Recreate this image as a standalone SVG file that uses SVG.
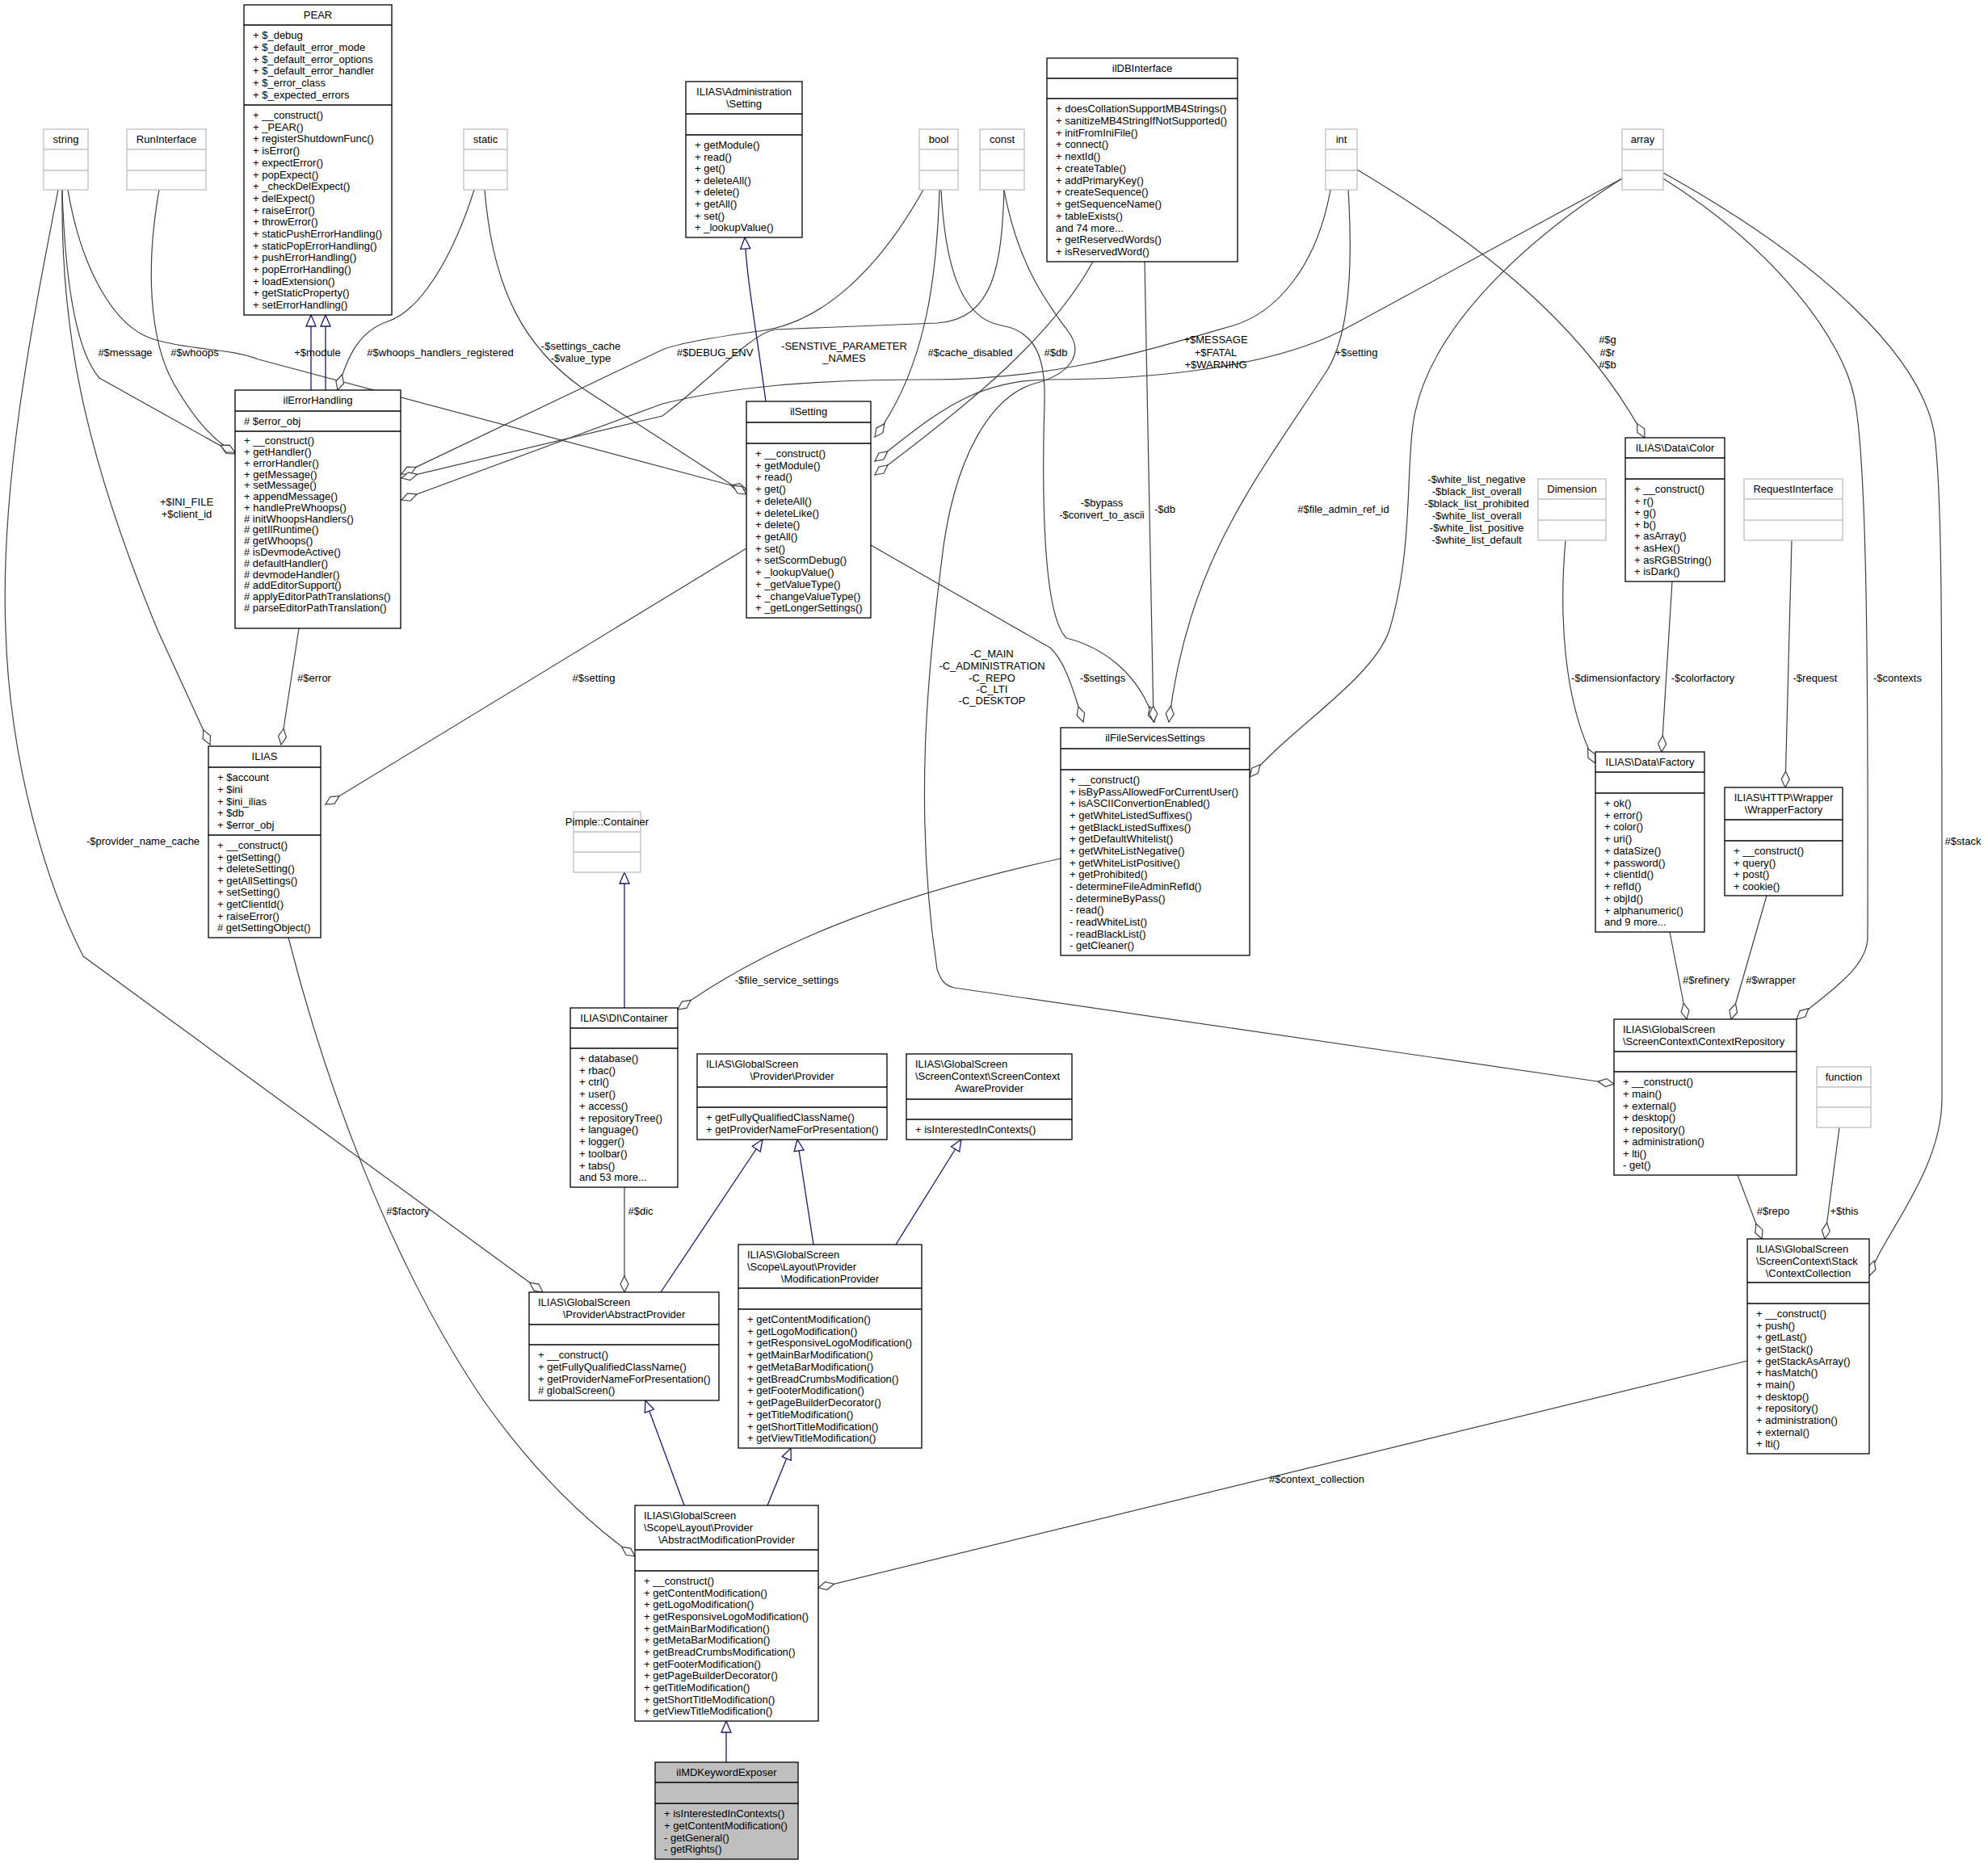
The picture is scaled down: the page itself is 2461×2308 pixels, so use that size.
<svg xmlns="http://www.w3.org/2000/svg" width="2461" height="2308" viewBox="0 0 2461 2308">
<style>
text{font-family:"Liberation Sans",Arial,Helvetica,sans-serif;font-size:13px;fill:#000}
.c{text-anchor:middle}
.n{fill:#fff;stroke:#000;stroke-width:1.3}
.g{fill:#fff;stroke:#bfbfbf;stroke-width:1.3}
.h{fill:#bfbfbf;stroke:#000;stroke-width:1.3}
.sn{stroke:#000;stroke-width:1.3}
.sg{stroke:#bfbfbf;stroke-width:1.3}
.e{fill:none;stroke:#404040;stroke-width:1.2;marker-end:url(#d)}
.i{fill:none;stroke:#191970;stroke-width:1.3;marker-end:url(#a)}
</style>
<defs>
<marker id="d" markerUnits="userSpaceOnUse" viewBox="0 0 22 12" refX="21" refY="6" markerWidth="22" markerHeight="12" orient="auto"><path d="M1,6 L11,1 L21,6 L11,11 Z" fill="#fff" stroke="#404040" stroke-width="1.2"/></marker>
<marker id="a" markerUnits="userSpaceOnUse" viewBox="0 0 16 14" refX="15" refY="7" markerWidth="16" markerHeight="14" orient="auto"><path d="M1,1 L15,7 L1,13 Z" fill="#fff" stroke="#191970" stroke-width="1.3"/></marker>
</defs>
<rect width="2461" height="2308" fill="#fff"/>
<g id="edges">
<path class="e" d="M77,235 C80,330 90,430 123,468 L291,562"/>
<path class="e" d="M197,235 C180,330 185,420 214,473 C235,510 260,545 291,560"/>
<path class="e" d="M84,235 C100,330 140,405 190,420 C240,435 280,430 320,445 L924,606"/>
<path class="e" d="M587,235 C560,320 520,385 480,398 C445,410 430,440 418,483"/>
<path class="e" d="M600,235 C610,360 650,430 720,480 L924,612"/>
<path class="e" d="M1143,235 C1090,330 1020,400 940,410 C880,418 840,425 820,433 L497,587"/>
<path class="e" d="M1243,235 C1240,330 1230,395 1160,400 L960,408 C930,412 880,470 820,515 L497,592"/>
<path class="e" d="M1647,235 C1630,330 1580,390 1520,405 C1400,440 1300,470 1150,470 C1000,470 900,480 820,500 L497,619"/>
<path class="e" d="M1163,235 C1160,330 1150,450 1083,541"/>
<path class="e" d="M2008,221 L1660,410 C1560,460 1400,470 1300,470 C1200,470 1150,520 1083,571"/>
<path class="e" d="M1353,324 C1300,420 1200,500 1083,588"/>
<path class="e" d="M1165,235 C1170,330 1190,395 1240,403 C1280,410 1295,440 1293,500 C1290,600 1290,760 1320,790 C1360,800 1410,830 1429,894"/>
<path class="e" d="M1243,235 C1260,330 1300,380 1322,410 C1345,440 1320,465 1280,475 C1230,490 1180,560 1165,700 C1150,820 1130,1000 1160,1200 C1165,1215 1170,1220 1181,1223 L1998,1342"/>
<path class="e" d="M1417,324 L1428,894"/>
<path class="e" d="M1078,675 L1300,802 C1320,820 1330,860 1341,894"/>
<path class="e" d="M1669,235 C1675,330 1670,420 1640,463 C1550,600 1470,700 1447,894"/>
<path class="e" d="M2008,221 C1900,290 1770,400 1750,520 C1740,580 1750,680 1720,780 C1700,840 1600,900 1547,962"/>
<path class="e" d="M2059,221 C2200,310 2280,420 2295,490 C2310,560 2313,780 2312,1160 C2312,1200 2260,1230 2224,1262"/>
<path class="e" d="M2059,214 C2250,320 2380,440 2395,540 C2405,620 2404,780 2404,1360 C2404,1450 2330,1530 2314,1580"/>
<path class="e" d="M1680,210 C1830,300 1960,400 2036,542"/>
<path class="e" d="M1938,669 C1930,760 1935,870 1975,945"/>
<path class="e" d="M2070,720 L2057,931"/>
<path class="e" d="M2218,669 L2210,975"/>
<path class="e" d="M2067,1154 L2088,1262"/>
<path class="e" d="M2187,1109 L2143,1262"/>
<path class="e" d="M2151,1455 L2181,1534"/>
<path class="e" d="M2277,1396 L2259,1534"/>
<path class="e" d="M2163,1685 L1013,1966"/>
<path class="e" d="M1313,1063 C1100,1110 950,1170 839,1250"/>
<path class="e" d="M773,1470 L773,1600"/>
<path class="e" d="M357,1161 C400,1330 480,1560 600,1736 C660,1820 720,1880 786,1927"/>
<path class="e" d="M72,235 C40,400 0,600 7,780 C12,950 60,1100 103,1184 L672,1600"/>
<path class="e" d="M77,235 C75,400 100,550 195,780 L260,922"/>
<path class="e" d="M370,778 L348,922"/>
<path class="e" d="M924,679 L403,996"/>
<path class="i" d="M385,483 L385,390"/>
<path class="i" d="M403,483 L403,390"/>
<path class="i" d="M948,497 C935,400 925,350 922,294"/>
<path class="i" d="M773,1248 L773,1080"/>
<path class="i" d="M818,1600 L944,1411"/>
<path class="i" d="M1007,1541 L987,1411"/>
<path class="i" d="M1109,1541 L1190,1411"/>
<path class="i" d="M847,1864 L799,1734"/>
<path class="i" d="M950,1864 L979,1793"/>
<path class="i" d="M899,2182 L899,2131"/>
<text class="c" x="155" y="441">#$message</text>
<text class="c" x="241" y="441">#$whoops</text>
<text class="c" x="393" y="441">+$module</text>
<text class="c" x="545" y="441">#$whoops_handlers_registered</text>
<text class="c" x="719" y="433">-$settings_cache</text>
<text class="c" x="719" y="448">-$value_type</text>
<text class="c" x="885" y="441">#$DEBUG_ENV</text>
<text class="c" x="1045" y="433">-SENSTIVE_PARAMETER</text>
<text class="c" x="1045" y="448">_NAMES</text>
<text class="c" x="1201" y="441">#$cache_disabled</text>
<text class="c" x="1307" y="441">#$db</text>
<text class="c" x="1505" y="425">+$MESSAGE</text>
<text class="c" x="1505" y="441">+$FATAL</text>
<text class="c" x="1505" y="456">+$WARNING</text>
<text class="c" x="1679" y="441">+$setting</text>
<text class="c" x="1990" y="425">#$g</text>
<text class="c" x="1990" y="441">#$r</text>
<text class="c" x="1990" y="456">#$b</text>
<text class="c" x="231" y="626">+$INI_FILE</text>
<text class="c" x="231" y="641">+$client_id</text>
<text class="c" x="177" y="1046">-$provider_name_cache</text>
<text class="c" x="389" y="844">#$error</text>
<text class="c" x="735" y="844">#$setting</text>
<text class="c" x="1364" y="627">-$bypass</text>
<text class="c" x="1364" y="642">-$convert_to_ascii</text>
<text class="c" x="1442" y="635">-$db</text>
<text class="c" x="1663" y="635">#$file_admin_ref_id</text>
<text class="c" x="1828" y="598">-$white_list_negative</text>
<text class="c" x="1828" y="613">-$black_list_overall</text>
<text class="c" x="1828" y="628">-$black_list_prohibited</text>
<text class="c" x="1828" y="643">-$white_list_overall</text>
<text class="c" x="1828" y="658">-$white_list_positive</text>
<text class="c" x="1828" y="673">-$white_list_default</text>
<text class="c" x="1228" y="814">-C_MAIN</text>
<text class="c" x="1228" y="829">-C_ADMINISTRATION</text>
<text class="c" x="1228" y="844">-C_REPO</text>
<text class="c" x="1228" y="858">-C_LTI</text>
<text class="c" x="1228" y="872">-C_DESKTOP</text>
<text class="c" x="1365" y="844">-$settings</text>
<text class="c" x="2000" y="844">-$dimensionfactory</text>
<text class="c" x="2108" y="844">-$colorfactory</text>
<text class="c" x="2247" y="844">-$request</text>
<text class="c" x="2349" y="844">-$contexts</text>
<text class="c" x="2430" y="1046">#$stack</text>
<text class="c" x="2112" y="1218">#$refinery</text>
<text class="c" x="2192" y="1218">#$wrapper</text>
<text class="c" x="2195" y="1504">#$repo</text>
<text class="c" x="2283" y="1504">+$this</text>
<text class="c" x="1630" y="1836">#$context_collection</text>
<text class="c" x="974" y="1218">-$file_service_settings</text>
<text class="c" x="793" y="1504">#$dic</text>
<text class="c" x="505" y="1504">#$factory</text>
</g>
<g id="PEAR"><rect class="n" x="302" y="6" width="183" height="384"/><line class="sn" x1="302" y1="31" x2="485" y2="31"/><line class="sn" x1="302" y1="130" x2="485" y2="130"/><text class="c" x="393.5" y="23">PEAR</text>
<text x="313" y="48"><tspan x="313">+ $_debug</tspan><tspan x="313" dy="14.83">+ $_default_error_mode</tspan><tspan x="313" dy="14.83">+ $_default_error_options</tspan><tspan x="313" dy="14.83">+ $_default_error_handler</tspan><tspan x="313" dy="14.83">+ $_error_class</tspan><tspan x="313" dy="14.83">+ $_expected_errors</tspan></text>
<text x="313" y="147"><tspan x="313">+ __construct()</tspan><tspan x="313" dy="14.7">+ _PEAR()</tspan><tspan x="313" dy="14.7">+ registerShutdownFunc()</tspan><tspan x="313" dy="14.7">+ isError()</tspan><tspan x="313" dy="14.7">+ expectError()</tspan><tspan x="313" dy="14.7">+ popExpect()</tspan><tspan x="313" dy="14.7">+ _checkDelExpect()</tspan><tspan x="313" dy="14.7">+ delExpect()</tspan><tspan x="313" dy="14.7">+ raiseError()</tspan><tspan x="313" dy="14.7">+ throwError()</tspan><tspan x="313" dy="14.7">+ staticPushErrorHandling()</tspan><tspan x="313" dy="14.7">+ staticPopErrorHandling()</tspan><tspan x="313" dy="14.7">+ pushErrorHandling()</tspan><tspan x="313" dy="14.7">+ popErrorHandling()</tspan><tspan x="313" dy="14.7">+ loadExtension()</tspan><tspan x="313" dy="14.7">+ getStaticProperty()</tspan><tspan x="313" dy="14.7">+ setErrorHandling()</tspan></text></g>
<g id="string"><rect class="g" x="54" y="160" width="55" height="75"/><line class="sg" x1="54" y1="185" x2="109" y2="185"/><line class="sg" x1="54" y1="211" x2="109" y2="211"/><text class="c" x="81.5" y="177">string</text></g>
<g id="RunInterface"><rect class="g" x="157" y="160" width="98" height="75"/><line class="sg" x1="157" y1="185" x2="255" y2="185"/><line class="sg" x1="157" y1="211" x2="255" y2="211"/><text class="c" x="206" y="177">RunInterface</text></g>
<g id="static"><rect class="g" x="574" y="160" width="54" height="75"/><line class="sg" x1="574" y1="185" x2="628" y2="185"/><line class="sg" x1="574" y1="211" x2="628" y2="211"/><text class="c" x="601" y="177">static</text></g>
<g id="bool"><rect class="g" x="1138" y="160" width="48" height="75"/><line class="sg" x1="1138" y1="185" x2="1186" y2="185"/><line class="sg" x1="1138" y1="211" x2="1186" y2="211"/><text class="c" x="1162" y="177">bool</text></g>
<g id="const"><rect class="g" x="1213" y="160" width="55" height="75"/><line class="sg" x1="1213" y1="185" x2="1268" y2="185"/><line class="sg" x1="1213" y1="211" x2="1268" y2="211"/><text class="c" x="1240.5" y="177">const</text></g>
<g id="int"><rect class="g" x="1641" y="160" width="39" height="75"/><line class="sg" x1="1641" y1="185" x2="1680" y2="185"/><line class="sg" x1="1641" y1="211" x2="1680" y2="211"/><text class="c" x="1660.5" y="177">int</text></g>
<g id="array"><rect class="g" x="2008" y="160" width="51" height="75"/><line class="sg" x1="2008" y1="185" x2="2059" y2="185"/><line class="sg" x1="2008" y1="211" x2="2059" y2="211"/><text class="c" x="2033.5" y="177">array</text></g>
<g id="AdminSetting"><rect class="n" x="849" y="101" width="144" height="193"/><line class="sn" x1="849" y1="141" x2="993" y2="141"/><line class="sn" x1="849" y1="167" x2="993" y2="167"/><text class="c" x="921" y="118">ILIAS\Administration</text><text class="c" x="921" y="133">\Setting</text>
<text x="860" y="184"><tspan x="860">+ getModule()</tspan><tspan x="860" dy="14.6">+ read()</tspan><tspan x="860" dy="14.6">+ get()</tspan><tspan x="860" dy="14.6">+ deleteAll()</tspan><tspan x="860" dy="14.6">+ delete()</tspan><tspan x="860" dy="14.6">+ getAll()</tspan><tspan x="860" dy="14.6">+ set()</tspan><tspan x="860" dy="14.6">+ _lookupValue()</tspan></text></g>
<g id="ilDBInterface"><rect class="n" x="1296" y="72" width="236" height="252"/><line class="sn" x1="1296" y1="97" x2="1532" y2="97"/><line class="sn" x1="1296" y1="122" x2="1532" y2="122"/><text class="c" x="1414" y="89">ilDBInterface</text>
<text x="1307" y="139"><tspan x="1307">+ doesCollationSupportMB4Strings()</tspan><tspan x="1307" dy="14.77">+ sanitizeMB4StringIfNotSupported()</tspan><tspan x="1307" dy="14.77">+ initFromIniFile()</tspan><tspan x="1307" dy="14.77">+ connect()</tspan><tspan x="1307" dy="14.77">+ nextId()</tspan><tspan x="1307" dy="14.77">+ createTable()</tspan><tspan x="1307" dy="14.77">+ addPrimaryKey()</tspan><tspan x="1307" dy="14.77">+ createSequence()</tspan><tspan x="1307" dy="14.77">+ getSequenceName()</tspan><tspan x="1307" dy="14.77">+ tableExists()</tspan><tspan x="1307" dy="14.77">and 74 more...</tspan><tspan x="1307" dy="14.77">+ getReservedWords()</tspan><tspan x="1307" dy="14.77">+ isReservedWord()</tspan></text></g>
<g id="ilErrorHandling"><rect class="n" x="291" y="483" width="205" height="295"/><line class="sn" x1="291" y1="509" x2="496" y2="509"/><line class="sn" x1="291" y1="534" x2="496" y2="534"/><text class="c" x="393.5" y="500">ilErrorHandling</text><text x="302" y="526"># $error_obj</text>
<text x="302" y="550.4"><tspan x="302">+ __construct()</tspan><tspan x="302" dy="13.76">+ getHandler()</tspan><tspan x="302" dy="13.76">+ errorHandler()</tspan><tspan x="302" dy="13.76">+ getMessage()</tspan><tspan x="302" dy="13.76">+ setMessage()</tspan><tspan x="302" dy="13.76">+ appendMessage()</tspan><tspan x="302" dy="13.76">+ handlePreWhoops()</tspan><tspan x="302" dy="13.76"># initWhoopsHandlers()</tspan><tspan x="302" dy="13.76"># getIlRuntime()</tspan><tspan x="302" dy="13.76"># getWhoops()</tspan><tspan x="302" dy="13.76"># isDevmodeActive()</tspan><tspan x="302" dy="13.76"># defaultHandler()</tspan><tspan x="302" dy="13.76"># devmodeHandler()</tspan><tspan x="302" dy="13.76"># addEditorSupport()</tspan><tspan x="302" dy="13.76"># applyEditorPathTranslations()</tspan><tspan x="302" dy="13.76"># parseEditorPathTranslation()</tspan></text></g>
<g id="ilSetting"><rect class="n" x="924" y="497" width="154" height="268"/><line class="sn" x1="924" y1="523" x2="1078" y2="523"/><line class="sn" x1="924" y1="549" x2="1078" y2="549"/><text class="c" x="1001" y="514">ilSetting</text>
<text x="935" y="566"><tspan x="935">+ __construct()</tspan><tspan x="935" dy="14.71">+ getModule()</tspan><tspan x="935" dy="14.71">+ read()</tspan><tspan x="935" dy="14.71">+ get()</tspan><tspan x="935" dy="14.71">+ deleteAll()</tspan><tspan x="935" dy="14.71">+ deleteLike()</tspan><tspan x="935" dy="14.71">+ delete()</tspan><tspan x="935" dy="14.71">+ getAll()</tspan><tspan x="935" dy="14.71">+ set()</tspan><tspan x="935" dy="14.71">+ setScormDebug()</tspan><tspan x="935" dy="14.71">+ _lookupValue()</tspan><tspan x="935" dy="14.71">+ _getValueType()</tspan><tspan x="935" dy="14.71">+ _changeValueType()</tspan><tspan x="935" dy="14.71">+ _getLongerSettings()</tspan></text></g>
<g id="Color"><rect class="n" x="2012" y="542" width="123" height="178"/><line class="sn" x1="2012" y1="567" x2="2135" y2="567"/><line class="sn" x1="2012" y1="593" x2="2135" y2="593"/><text class="c" x="2073.5" y="559">ILIAS\Data\Color</text>
<text x="2023" y="610"><tspan x="2023">+ __construct()</tspan><tspan x="2023" dy="14.6">+ r()</tspan><tspan x="2023" dy="14.6">+ g()</tspan><tspan x="2023" dy="14.6">+ b()</tspan><tspan x="2023" dy="14.6">+ asArray()</tspan><tspan x="2023" dy="14.6">+ asHex()</tspan><tspan x="2023" dy="14.6">+ asRGBString()</tspan><tspan x="2023" dy="14.6">+ isDark()</tspan></text></g>
<g id="Dimension"><rect class="g" x="1904" y="593" width="84" height="76"/><line class="sg" x1="1904" y1="618" x2="1988" y2="618"/><line class="sg" x1="1904" y1="644" x2="1988" y2="644"/><text class="c" x="1946" y="610">Dimension</text></g>
<g id="RequestInterface"><rect class="g" x="2159" y="593" width="122" height="76"/><line class="sg" x1="2159" y1="618" x2="2281" y2="618"/><line class="sg" x1="2159" y1="644" x2="2281" y2="644"/><text class="c" x="2220" y="610">RequestInterface</text></g>
<g id="ILIAS"><rect class="n" x="258" y="924" width="139" height="237"/><line class="sn" x1="258" y1="950" x2="397" y2="950"/><line class="sn" x1="258" y1="1034" x2="397" y2="1034"/><text class="c" x="327.5" y="941">ILIAS</text>
<text x="269" y="967"><tspan x="269">+ $account</tspan><tspan x="269" dy="14.8">+ $ini</tspan><tspan x="269" dy="14.8">+ $ini_ilias</tspan><tspan x="269" dy="14.8">+ $db</tspan><tspan x="269" dy="14.8">+ $error_obj</tspan></text>
<text x="269" y="1051"><tspan x="269">+ __construct()</tspan><tspan x="269" dy="14.6">+ getSetting()</tspan><tspan x="269" dy="14.6">+ deleteSetting()</tspan><tspan x="269" dy="14.6">+ getAllSettings()</tspan><tspan x="269" dy="14.6">+ setSetting()</tspan><tspan x="269" dy="14.6">+ getClientId()</tspan><tspan x="269" dy="14.6">+ raiseError()</tspan><tspan x="269" dy="14.6"># getSettingObject()</tspan></text></g>
<g id="Pimple"><rect class="g" x="710" y="1005" width="83" height="75"/><line class="sg" x1="710" y1="1030" x2="793" y2="1030"/><line class="sg" x1="710" y1="1055" x2="793" y2="1055"/><text class="c" x="751.5" y="1022">Pimple::Container</text></g>
<g id="DIContainer"><rect class="n" x="706" y="1248" width="133" height="222"/><line class="sn" x1="706" y1="1273" x2="839" y2="1273"/><line class="sn" x1="706" y1="1298" x2="839" y2="1298"/><text class="c" x="772.5" y="1265">ILIAS\DI\Container</text>
<text x="717" y="1315"><tspan x="717">+ database()</tspan><tspan x="717" dy="14.73">+ rbac()</tspan><tspan x="717" dy="14.73">+ ctrl()</tspan><tspan x="717" dy="14.73">+ user()</tspan><tspan x="717" dy="14.73">+ access()</tspan><tspan x="717" dy="14.73">+ repositoryTree()</tspan><tspan x="717" dy="14.73">+ language()</tspan><tspan x="717" dy="14.73">+ logger()</tspan><tspan x="717" dy="14.73">+ toolbar()</tspan><tspan x="717" dy="14.73">+ tabs()</tspan><tspan x="717" dy="14.73">and 53 more...</tspan></text></g>
<g id="ilFileServicesSettings"><rect class="n" x="1313" y="901" width="234" height="282"/><line class="sn" x1="1313" y1="927" x2="1547" y2="927"/><line class="sn" x1="1313" y1="953" x2="1547" y2="953"/><text class="c" x="1430" y="918">ilFileServicesSettings</text>
<text x="1324" y="970"><tspan x="1324">+ __construct()</tspan><tspan x="1324" dy="14.67">+ isByPassAllowedForCurrentUser()</tspan><tspan x="1324" dy="14.67">+ isASCIIConvertionEnabled()</tspan><tspan x="1324" dy="14.67">+ getWhiteListedSuffixes()</tspan><tspan x="1324" dy="14.67">+ getBlackListedSuffixes()</tspan><tspan x="1324" dy="14.67">+ getDefaultWhitelist()</tspan><tspan x="1324" dy="14.67">+ getWhiteListNegative()</tspan><tspan x="1324" dy="14.67">+ getWhiteListPositive()</tspan><tspan x="1324" dy="14.67">+ getProhibited()</tspan><tspan x="1324" dy="14.67">- determineFileAdminRefId()</tspan><tspan x="1324" dy="14.67">- determineByPass()</tspan><tspan x="1324" dy="14.67">- read()</tspan><tspan x="1324" dy="14.67">- readWhiteList()</tspan><tspan x="1324" dy="14.67">- readBlackList()</tspan><tspan x="1324" dy="14.67">- getCleaner()</tspan></text></g>
<g id="DataFactory"><rect class="n" x="1975" y="931" width="135" height="223"/><line class="sn" x1="1975" y1="956" x2="2110" y2="956"/><line class="sn" x1="1975" y1="982" x2="2110" y2="982"/><text class="c" x="2042.5" y="948">ILIAS\Data\Factory</text>
<text x="1986" y="999"><tspan x="1986">+ ok()</tspan><tspan x="1986" dy="14.73">+ error()</tspan><tspan x="1986" dy="14.73">+ color()</tspan><tspan x="1986" dy="14.73">+ uri()</tspan><tspan x="1986" dy="14.73">+ dataSize()</tspan><tspan x="1986" dy="14.73">+ password()</tspan><tspan x="1986" dy="14.73">+ clientId()</tspan><tspan x="1986" dy="14.73">+ refId()</tspan><tspan x="1986" dy="14.73">+ objId()</tspan><tspan x="1986" dy="14.73">+ alphanumeric()</tspan><tspan x="1986" dy="14.73">and 9 more...</tspan></text></g>
<g id="WrapperFactory"><rect class="n" x="2135" y="975" width="146" height="134"/><line class="sn" x1="2135" y1="1015" x2="2281" y2="1015"/><line class="sn" x1="2135" y1="1041" x2="2281" y2="1041"/><text class="c" x="2208" y="992">ILIAS\HTTP\Wrapper</text><text class="c" x="2208" y="1007">\WrapperFactory</text>
<text x="2146" y="1058"><tspan x="2146">+ __construct()</tspan><tspan x="2146" dy="14.5">+ query()</tspan><tspan x="2146" dy="14.5">+ post()</tspan><tspan x="2146" dy="14.5">+ cookie()</tspan></text></g>
<g id="ContextRepository"><rect class="n" x="1998" y="1262" width="226" height="193"/><line class="sn" x1="1998" y1="1302" x2="2224" y2="1302"/><line class="sn" x1="1998" y1="1327" x2="2224" y2="1327"/><text x="2009" y="1279">ILIAS\GlobalScreen</text><text x="2009" y="1294">\ScreenContext\ContextRepository</text>
<text x="2009" y="1344"><tspan x="2009">+ __construct()</tspan><tspan x="2009" dy="14.75">+ main()</tspan><tspan x="2009" dy="14.75">+ external()</tspan><tspan x="2009" dy="14.75">+ desktop()</tspan><tspan x="2009" dy="14.75">+ repository()</tspan><tspan x="2009" dy="14.75">+ administration()</tspan><tspan x="2009" dy="14.75">+ lti()</tspan><tspan x="2009" dy="14.75">- get()</tspan></text></g>
<g id="function"><rect class="g" x="2249" y="1321" width="67" height="75"/><line class="sg" x1="2249" y1="1346" x2="2316" y2="1346"/><line class="sg" x1="2249" y1="1371" x2="2316" y2="1371"/><text class="c" x="2282.5" y="1338">function</text></g>
<g id="ContextCollection"><rect class="n" x="2163" y="1534" width="151" height="266"/><line class="sn" x1="2163" y1="1588" x2="2314" y2="1588"/><line class="sn" x1="2163" y1="1614" x2="2314" y2="1614"/><text x="2174" y="1551">ILIAS\GlobalScreen</text><text x="2174" y="1566">\ScreenContext\Stack</text><text class="c" x="2238.5" y="1581">\ContextCollection</text>
<text x="2174" y="1631"><tspan x="2174">+ __construct()</tspan><tspan x="2174" dy="14.67">+ push()</tspan><tspan x="2174" dy="14.67">+ getLast()</tspan><tspan x="2174" dy="14.67">+ getStack()</tspan><tspan x="2174" dy="14.67">+ getStackAsArray()</tspan><tspan x="2174" dy="14.67">+ hasMatch()</tspan><tspan x="2174" dy="14.67">+ main()</tspan><tspan x="2174" dy="14.67">+ desktop()</tspan><tspan x="2174" dy="14.67">+ repository()</tspan><tspan x="2174" dy="14.67">+ administration()</tspan><tspan x="2174" dy="14.67">+ external()</tspan><tspan x="2174" dy="14.67">+ lti()</tspan></text></g>
<g id="Provider"><rect class="n" x="863" y="1305" width="235" height="106"/><line class="sn" x1="863" y1="1346" x2="1098" y2="1346"/><line class="sn" x1="863" y1="1371" x2="1098" y2="1371"/><text x="874" y="1322">ILIAS\GlobalScreen</text><text class="c" x="980.5" y="1337">\Provider\Provider</text>
<text x="874" y="1388"><tspan x="874">+ getFullyQualifiedClassName()</tspan><tspan x="874" dy="14.7">+ getProviderNameForPresentation()</tspan></text></g>
<g id="ScreenContextAwareProvider"><rect class="n" x="1122" y="1305" width="205" height="106"/><line class="sn" x1="1122" y1="1361" x2="1327" y2="1361"/><line class="sn" x1="1122" y1="1386" x2="1327" y2="1386"/><text x="1133" y="1322">ILIAS\GlobalScreen</text><text x="1133" y="1337">\ScreenContext\ScreenContext</text><text class="c" x="1224.5" y="1352">AwareProvider</text>
<text x="1133" y="1403">+ isInterestedInContexts()</text></g>
<g id="AbstractProvider"><rect class="n" x="655" y="1600" width="235" height="134"/><line class="sn" x1="655" y1="1640" x2="890" y2="1640"/><line class="sn" x1="655" y1="1665" x2="890" y2="1665"/><text x="666" y="1617">ILIAS\GlobalScreen</text><text class="c" x="772.5" y="1632">\Provider\AbstractProvider</text>
<text x="666" y="1682"><tspan x="666">+ __construct()</tspan><tspan x="666" dy="14.75">+ getFullyQualifiedClassName()</tspan><tspan x="666" dy="14.75">+ getProviderNameForPresentation()</tspan><tspan x="666" dy="14.75"># globalScreen()</tspan></text></g>
<g id="ModificationProvider"><rect class="n" x="914" y="1541" width="227" height="252"/><line class="sn" x1="914" y1="1595" x2="1141" y2="1595"/><line class="sn" x1="914" y1="1621" x2="1141" y2="1621"/><text x="925" y="1558">ILIAS\GlobalScreen</text><text x="925" y="1573">\Scope\Layout\Provider</text><text class="c" x="1027.5" y="1588">\ModificationProvider</text>
<text x="925" y="1638"><tspan x="925">+ getContentModification()</tspan><tspan x="925" dy="14.73">+ getLogoModification()</tspan><tspan x="925" dy="14.73">+ getResponsiveLogoModification()</tspan><tspan x="925" dy="14.73">+ getMainBarModification()</tspan><tspan x="925" dy="14.73">+ getMetaBarModification()</tspan><tspan x="925" dy="14.73">+ getBreadCrumbsModification()</tspan><tspan x="925" dy="14.73">+ getFooterModification()</tspan><tspan x="925" dy="14.73">+ getPageBuilderDecorator()</tspan><tspan x="925" dy="14.73">+ getTitleModification()</tspan><tspan x="925" dy="14.73">+ getShortTitleModification()</tspan><tspan x="925" dy="14.73">+ getViewTitleModification()</tspan></text></g>
<g id="AbstractModificationProvider"><rect class="n" x="786" y="1864" width="227" height="267"/><line class="sn" x1="786" y1="1919" x2="1013" y2="1919"/><line class="sn" x1="786" y1="1945" x2="1013" y2="1945"/><text x="797" y="1881">ILIAS\GlobalScreen</text><text x="797" y="1896">\Scope\Layout\Provider</text><text class="c" x="899.5" y="1911">\AbstractModificationProvider</text>
<text x="797" y="1962"><tspan x="797">+ __construct()</tspan><tspan x="797" dy="14.67">+ getContentModification()</tspan><tspan x="797" dy="14.67">+ getLogoModification()</tspan><tspan x="797" dy="14.67">+ getResponsiveLogoModification()</tspan><tspan x="797" dy="14.67">+ getMainBarModification()</tspan><tspan x="797" dy="14.67">+ getMetaBarModification()</tspan><tspan x="797" dy="14.67">+ getBreadCrumbsModification()</tspan><tspan x="797" dy="14.67">+ getFooterModification()</tspan><tspan x="797" dy="14.67">+ getPageBuilderDecorator()</tspan><tspan x="797" dy="14.67">+ getTitleModification()</tspan><tspan x="797" dy="14.67">+ getShortTitleModification()</tspan><tspan x="797" dy="14.67">+ getViewTitleModification()</tspan></text></g>
<g id="ilMDKeywordExposer"><rect class="h" x="811" y="2182" width="177" height="120"/><line class="sn" x1="811" y1="2207" x2="988" y2="2207"/><line class="sn" x1="811" y1="2233" x2="988" y2="2233"/><text class="c" x="899.5" y="2199">ilMDKeywordExposer</text>
<text x="822" y="2250"><tspan x="822">+ isInterestedInContexts()</tspan><tspan x="822" dy="14.75">+ getContentModification()</tspan><tspan x="822" dy="14.75">- getGeneral()</tspan><tspan x="822" dy="14.75">- getRights()</tspan></text></g>
</svg>
